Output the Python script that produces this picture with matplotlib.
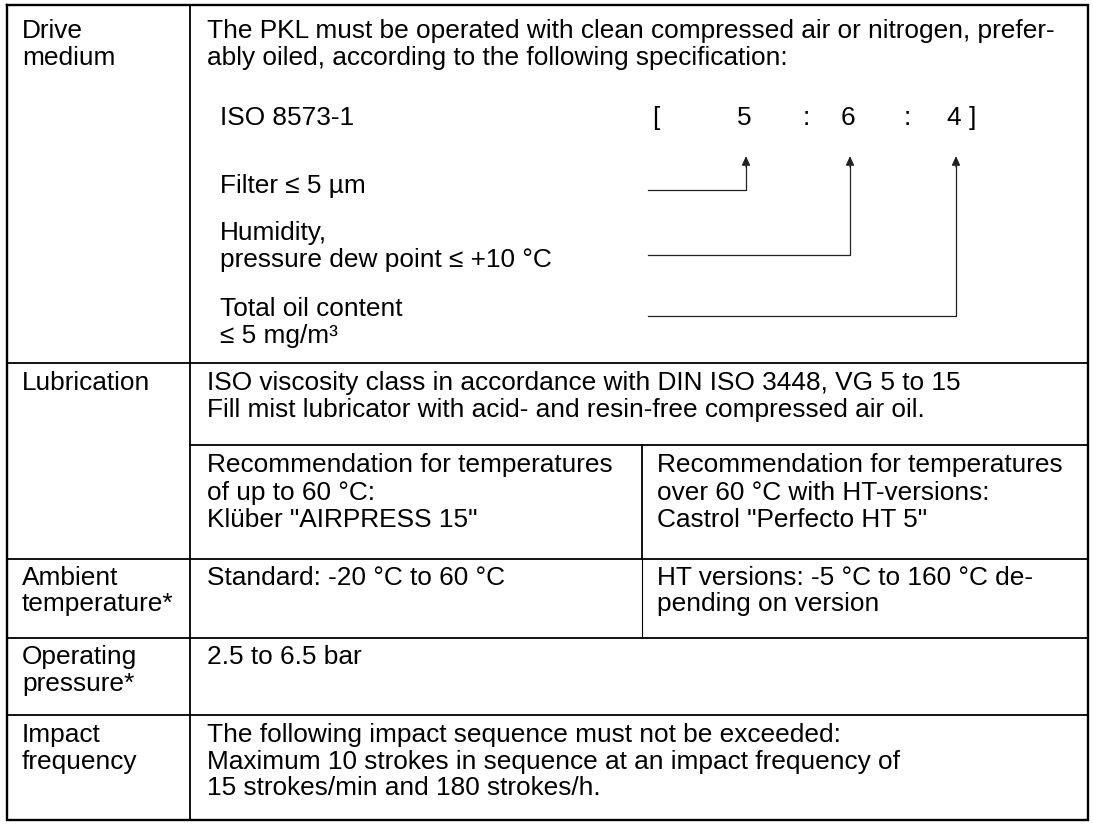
import matplotlib
matplotlib.use("Agg")
import matplotlib.pyplot as plt

plt.rcParams['font.family'] = ['Liberation Sans', 'DejaVu Sans']

W, H = 1093, 824
FS = 18.9

# table grid (pixels, y downwards)
left, right, top, bottom = 7, 1088, 5, 820
col_split = 190
sub_split = 642
row_lines = [363, 559, 638, 715]
lub_sub_line = 445

# row labels and text
labels = [
    (["Drive", "medium"], 38),
    (["Lubrication"], 390),
    (["Ambient", "temperature*"], 585),
    (["Operating", "pressure*"], 664),
    (["Impact", "frequency"], 742),
]
intro = ["The PKL must be operated with clean compressed air or nitrogen, prefer-",
         "ably oiled, according to the following specification:"]
spec_items = [
    (["Filter \u2264 5 \u00b5m"], 193),
    (["Humidity,", "pressure dew point \u2264 +10 \u00b0C"], 240),
    (["Total oil content", "\u2264 5 mg/m\u00b3"], 316),
]
spec_codes = ["5", "6", "4"]
code_x = [746, 850, 956]
leader_y = [190, 255, 316]

lub_text = ["ISO viscosity class in accordance with DIN ISO 3448, VG 5 to 15",
            "Fill mist lubricator with acid- and resin-free compressed air oil."]
lub_left = ["Recommendation for temperatures", "of up to 60 \u00b0C:", "Kl\u00fcber \"AIRPRESS 15\""]
lub_right = ["Recommendation for temperatures", "over 60 \u00b0C with HT-versions:", "Castrol \"Perfecto HT 5\""]
amb_left = ["Standard: -20 \u00b0C to 60 \u00b0C"]
amb_right = ["HT versions: -5 \u00b0C to 160 \u00b0C de-", "pending on version"]
press_text = ["2.5 to 6.5 bar"]
impact_text = ["The following impact sequence must not be exceeded:",
               "Maximum 10 strokes in sequence at an impact frequency of",
               "15 strokes/min and 180 strokes/h."]

LS = 26.5

fig = plt.figure(figsize=(W / 100, H / 100), dpi=100)
ax = fig.add_axes([0, 0, 1, 1])
ax.set_xlim(0, W)
ax.set_ylim(H, 0)
ax.axis("off")


def lines(x, y, txt, step=LS):
    for i, t in enumerate(txt):
        ax.text(x, y + i * step, t, fontsize=FS, va="baseline", ha="left", color="black")


# borders
ax.plot([left, right, right, left, left], [top, top, bottom, bottom, top], color="black", lw=1.7,
        solid_joinstyle="miter")
ax.plot([col_split, col_split], [top, bottom], color="black", lw=1.3)
for y in row_lines:
    ax.plot([left, right], [y, y], color="black", lw=1.3)
ax.plot([col_split, right], [lub_sub_line, lub_sub_line], color="black", lw=1.3)
ax.plot([sub_split, sub_split], [lub_sub_line, row_lines[1]], color="black", lw=1.3)
ax.plot([sub_split, sub_split], [row_lines[1], row_lines[2]], color="black", lw=0.8)

# left column
for txt, y in labels:
    lines(22, y, txt)

# drive medium
lines(207, 38, intro, step=27)
ax.text(220, 125, "ISO 8573-1", fontsize=FS, va="baseline")
ax.text(652, 125, "[", fontsize=FS, va="baseline")
ax.text(806, 125, ":", fontsize=FS, va="baseline", ha="center")
ax.text(907, 125, ":", fontsize=FS, va="baseline", ha="center")
ax.text(972, 125, "]", fontsize=FS, va="baseline", ha="center")
for c, x in zip(spec_codes, code_x):
    ax.text(x - 2, 125, c, fontsize=FS, va="baseline", ha="center")
for txt, y in spec_items:
    lines(220, y, txt, step=27)

for x, y in zip(code_x, leader_y):
    ax.plot([648, x, x], [y, y, 166], color="#222222", lw=0.9)
    ax.annotate("", xy=(x, 156), xytext=(x, 167),
                arrowprops=dict(arrowstyle="-|>,head_length=0.55,head_width=0.25",
                                color="#222222", lw=0.9, shrinkA=0, shrinkB=0))

# lubrication
lines(207, 390, lub_text)
lines(207, 472, lub_left, step=27.5)
lines(657, 472, lub_right, step=27.5)

# ambient / pressure / impact
lines(207, 585, amb_left)
lines(657, 585, amb_right)
lines(207, 664, press_text)
lines(207, 742, impact_text)

fig.savefig("out.png", dpi=100, facecolor="white")
